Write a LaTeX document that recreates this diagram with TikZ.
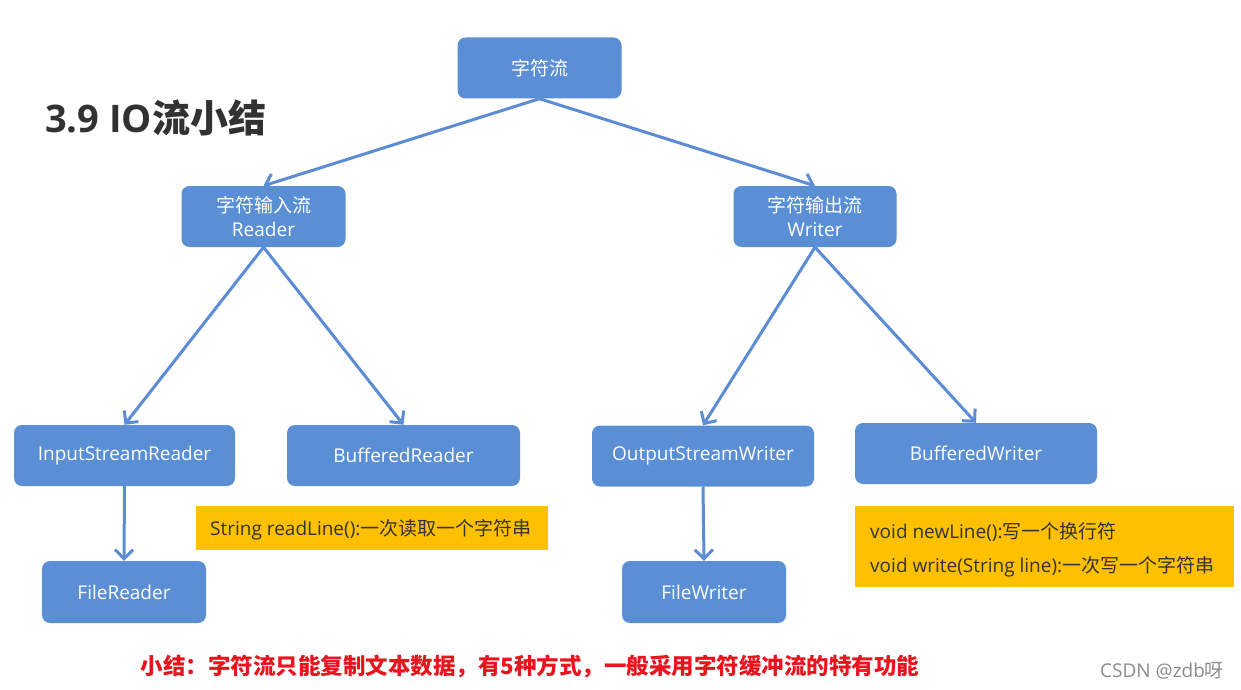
\documentclass[tikz,border=0pt]{standalone}
\usepackage{fontspec}
\setmainfont{Open Sans}
\newfontfamily\cjk{Noto Sans CJK SC}
\usetikzlibrary{arrows.meta}
\definecolor{boxblue}{RGB}{91,143,213}
\definecolor{lineblue}{RGB}{91,140,212}
\definecolor{hl}{RGB}{255,192,0}
\definecolor{hltext}{RGB}{51,51,51}
\definecolor{titlegray}{RGB}{50,50,50}
\definecolor{redtxt}{RGB}{232,20,30}
\definecolor{wmgray}{RGB}{140,140,140}
\begin{document}
\begin{tikzpicture}[x=1pt,y=-1pt,
  box/.style={fill=boxblue, rounded corners=8pt, text=white,
    font=\fontsize{19}{24}\selectfont, align=center, inner sep=0pt},
  note/.style={fill=hl, inner sep=0pt, anchor=north west},
  notetext/.style={text=hltext, inner sep=0pt, anchor=base west,
    font=\fontsize{19}{23}\selectfont},
  conn/.style={draw=lineblue, line width=3pt,
    -{Straight Barb[length=9pt,width=18pt,line width=3pt]}}]
\useasboundingbox[fill=white] (0,0) rectangle (1241,690);

\node[anchor=west, inner sep=0pt, text=titlegray,
  font=\bfseries\fontsize{38}{42}\selectfont] (title) at (45,118) {3.9 IO{\cjk 流小结}};

\node[box, minimum width=164pt, minimum height=61pt] (top) at (539.5,68) {\cjk 字符流};
\node[box, minimum width=164pt, minimum height=61pt] (rd) at (263.5,216.5) {{\cjk 字符输入流}\\Reader};
\node[box, minimum width=163pt, minimum height=61pt] (wr) at (815,216.5) {{\cjk 字符输出流}\\Writer};

\node[box, minimum width=221pt, minimum height=61pt] (isr) at (124.5,455.5) {InputStreamReader};
\node[box, minimum width=233pt, minimum height=61pt] (br) at (403.5,455.5) {BufferedReader};
\node[box, minimum width=222pt, minimum height=61pt] (osw) at (703,456) {OutputStreamWriter};
\node[box, minimum width=242pt, minimum height=61pt] (bw) at (976,453.5) {BufferedWriter};
\node[box, minimum width=164pt, minimum height=62pt] (fr) at (124,592) {FileReader};
\node[box, minimum width=164pt, minimum height=62pt] (fw) at (704,592) {FileWriter};

\node[note, minimum width=352pt, minimum height=44pt] (n1) at (196,506) {};
\node[notetext] (n1t) at (210,535) {String readLine():{\cjk 一次读取一个字符串}};
\node[note, minimum width=379pt, minimum height=81pt] (n2) at (855,506) {};
\node[notetext] (n2a) at (870,538.5) {void newLine():{\cjk 写一个换行符}};
\node[notetext] (n2b) at (870,572) {void write(String line):{\cjk 一次写一个字符串}};

\draw[conn] (top.south) -- (rd.north);
\draw[conn] (top.south) -- (wr.north);
\draw[conn] (rd.south) -- (isr.north);
\draw[conn] (rd.south) -- (br.north);
\draw[conn] (wr.south) -- (osw.north);
\draw[conn] (wr.south) -- (bw.north);
\draw[conn] (isr.south) -- (fr.north);
\draw[conn] (osw.south) -- (fw.north);

\node[inner sep=0pt, text=redtxt, font=\bfseries\fontsize{22.5}{27}\selectfont\cjk] (sum) at (530,666)
  {小结：字符流只能复制文本数据，有5种方式，一般采用字符缓冲流的特有功能};
\node[anchor=west, inner sep=0pt, text=wmgray, font=\fontsize{19}{22}\selectfont] (wm) at (1100,671)
  {CSDN @zdb{\cjk 呀}};
\end{tikzpicture}
\end{document}
